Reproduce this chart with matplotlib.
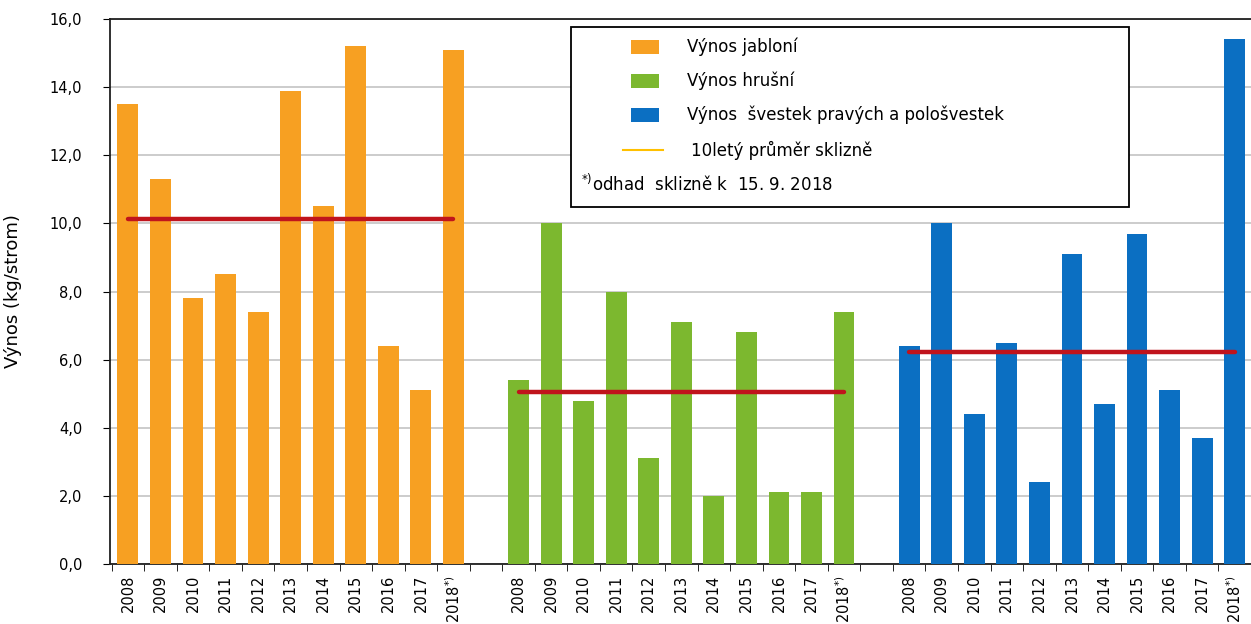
import matplotlib.pyplot as plt
from matplotlib.patches import Rectangle
from matplotlib.lines import Line2D

# data
years = ['2008', '2009', '2010', '2011', '2012', '2013', '2014', '2015', '2016', '2017',
         '2018$^{*)}$']
apples = [13.5, 11.3, 7.8, 8.5, 7.4, 13.9, 10.5, 15.2, 6.4, 5.1, 15.1]
pears = [5.4, 10.0, 4.8, 8.0, 3.1, 7.1, 2.0, 6.8, 2.1, 2.1, 7.4]
plums = [6.4, 10.0, 4.4, 6.5, 2.4, 9.1, 4.7, 9.7, 5.1, 3.7, 15.4]
avg_apples = 10.13
avg_pears = 5.05
avg_plums = 6.22

series_labels = ['Výnos jabloní', 'Výnos hrušní', 'Výnos  švestek pravých a pološvestek']
colors = ['#F7A022', '#7CB82F', '#0B6FC2']
avg_color = '#C0141C'
legend_line_color = '#FFC000'

fig = plt.figure(figsize=(12.51, 6.24), dpi=100)
ax = fig.add_axes([110 / 1251, 1 - 564 / 624, 1 - 110 / 1251, (564 - 19) / 624])

groups = [apples, pears, plums]
averages = [avg_apples, avg_pears, avg_plums]
n = len(years)
tick_pos = []
tick_lab = []
for g, (vals, avg) in enumerate(zip(groups, averages)):
    xs = [g * (n + 1) + i for i in range(n)]
    ax.bar(xs, vals, width=0.64, color=colors[g], zorder=3)
    ax.plot([xs[0], xs[-1]], [avg, avg], color=avg_color, lw=3.2,
            solid_capstyle='round', zorder=4)
    tick_pos += xs
    tick_lab += years

total = 3 * n + 2
ax.set_xlim(-0.55, total - 0.6)
ax.set_ylim(0, 16)
ax.set_yticks(range(0, 17, 2))
ax.set_yticklabels([f'{v:.1f}'.replace('.', ',') for v in range(0, 17, 2)], fontsize=10.5)
ax.set_xticks(tick_pos)
ax.set_xticklabels(tick_lab, rotation=90, fontsize=10.5)
ax.set_xticks([x - 0.5 for x in range(total + 1)], minor=True)
ax.tick_params(axis='x', which='major', length=0, pad=8)
ax.tick_params(axis='x', which='minor', length=5, direction='out')
ax.tick_params(axis='y', length=5, direction='out', pad=15)
ax.yaxis.grid(True, color='#c4c4c4', lw=1.2, zorder=0)
ax.set_axisbelow(True)
ax.set_ylabel('Výnos (kg/strom)', fontsize=13)
ax.yaxis.set_label_coords(-(110 - 22) / 1143, 0.5)
for s in ['left', 'bottom', 'top']:
    ax.spines[s].set_color('#202020')
    ax.spines[s].set_linewidth(1.3)
ax.spines['right'].set_visible(False)


# legend drawn by hand inside a black box (pixel positions of the reference)
def px(x, y):
    return ((x - 110) / (1253 - 110), (564 - y) / (564 - 19))


x0, y0 = px(572, 207)
x1, y1 = px(1131, 27)
ax.add_patch(Rectangle((x0, y0), x1 - x0, y1 - y0, transform=ax.transAxes,
                       facecolor='white', edgecolor='black', lw=1.3, zorder=6))
rows = [47, 81, 115, 150, 184]
for i, lab in enumerate(series_labels):
    bx, by = px(632, rows[i] + 7)
    bx2, by2 = px(660, rows[i] - 7)
    ax.add_patch(Rectangle((bx, by), bx2 - bx, by2 - by, transform=ax.transAxes,
                           facecolor=colors[i], edgecolor='none', zorder=7))
    tx, ty = px(688, rows[i])
    ax.text(tx, ty, lab, transform=ax.transAxes, fontsize=12, va='center', zorder=7)
lx, ly = px(624, rows[3])
lx2, _ = px(664, rows[3])
ax.add_line(Line2D([lx, lx2], [ly, ly], transform=ax.transAxes, color=legend_line_color,
                   lw=1.5, zorder=7))
tx, ty = px(692, rows[3])
ax.text(tx, ty, '10letý průměr sklizně', transform=ax.transAxes, fontsize=12,
        va='center', zorder=7)
tx, ty = px(582, rows[4])
ax.text(tx, ty, '$^{*)}$odhad  sklizně k  15. 9. 2018', transform=ax.transAxes,
        fontsize=12, va='center', zorder=7)

fig.savefig('out.png', dpi=100, facecolor='white')
